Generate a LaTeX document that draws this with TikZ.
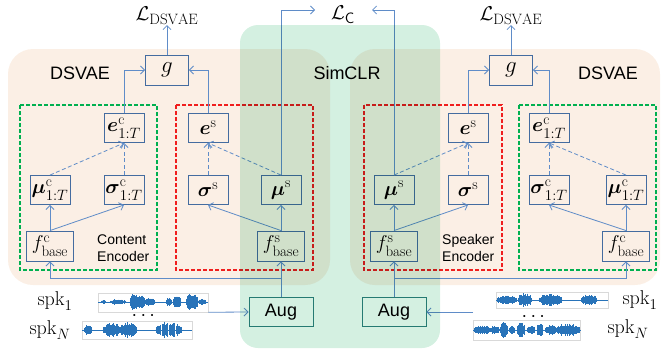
\RequirePackage{fix-cm}
\documentclass[tikz,border=0pt]{standalone}
\usepackage{amsmath,amssymb}
\usepackage{fontspec}
\newfontfamily\sflabel{Liberation Sans}
\usetikzlibrary{arrows.meta}
\DeclareMathSizes{20}{20}{15}{11}
\DeclareMathSizes{23}{23}{16}{12}

\definecolor{peach}{RGB}{251,239,229}
\definecolor{simgreen}{RGB}{212,240,225}
\definecolor{boxc}{RGB}{68,108,160}
\definecolor{arrc}{RGB}{95,140,200}
\definecolor{dgreen}{RGB}{0,176,80}
\definecolor{dred}{RGB}{240,30,30}
\definecolor{wavec}{RGB}{40,115,185}
\definecolor{augc}{RGB}{45,130,130}

% waveform: x, y of the zero line, length, bumps c/w/a
\newcommand{\wave}[4]{%
  \begin{scope}[shift={(#1,#2)}]
    \draw[wavec,line width=0.7pt] (0,0) -- (#3,0);
    \foreach \bc/\bw/\ba in {#4}{
      \foreach \i in {-12,...,12}{
        \pgfmathsetmacro{\h}{\ba*sqrt(max(0,1-(\i/12)*(\i/12)))*(0.5+0.5*rnd)+0.5}
        \draw[wavec,line width=0.9pt] (\bc+\i*\bw/12,-\h) -- (\bc+\i*\bw/12,\h);
      }
    }
  \end{scope}}

\begin{document}
\begin{tikzpicture}[x=1pt,y=-1pt,>={Straight Barb[length=4pt,width=8pt]},
                    shorten >=0pt]
    \tikzset{box/.style={draw=boxc,line width=0.9pt,minimum width=40pt,
               minimum height=29pt,inner sep=0pt,font=\fontsize{20}{22}\selectfont},
             basebox/.style={box,minimum width=47pt,minimum height=30pt},
             gbox/.style={box,minimum width=43pt,minimum height=30pt,
               font=\fontsize{23}{25}\selectfont},
             augbox/.style={draw=augc,line width=0.9pt,minimum width=64pt,
               minimum height=29pt,font=\sflabel\fontsize{18}{20}\selectfont},
             arr/.style={->,draw=arrc,line width=0.8pt},
             darr/.style={arr,dash pattern=on 4pt off 2.5pt},
             grp/.style={dash pattern=on 4pt off 2pt,line width=1.2pt},
             lbl/.style={font=\sflabel\fontsize{18}{20}\selectfont},
             enc/.style={font=\sflabel\fontsize{14}{17}\selectfont,align=left,
               inner sep=0pt,anchor=west},
             mtext/.style={font=\fontsize{20}{22}\selectfont,inner sep=0pt},
             wframe/.style={draw=black!15,line width=0.5pt,inner sep=0pt}}
    \useasboundingbox (0,0) rectangle (661,349);
    \pgfmathsetseed{11}

    \fill[peach,rounded corners=25pt] (8,49) rectangle (330,285);
    \fill[peach,rounded corners=25pt] (350,49) rectangle (660,285);
    \draw[dgreen,grp] (20,105) rectangle (157,270);
    \draw[dred,grp] (176,105) rectangle (313,270);
    \draw[dred,grp] (364,105) rectangle (502,270);
    \draw[dgreen,grp] (519,105) rectangle (656,270);

    \node[lbl] (dsL) at (80,73) {DSVAE};
    \node[lbl] (dsR) at (608,73) {DSVAE};
    \node[lbl] (sim) at (347,73) {SimCLR};
    \node[enc] (ceL) at (97,248) {Content\\Encoder};
    \node[enc] (seR) at (442,248) {Speaker\\Encoder};

    % left branch
    \node[mtext] (LdL) at (167,16) {$\mathcal{L}_{\mathrm{DSVAE}}$};
    \node[gbox] (gL) at (167,70) {$g$};
    \node[box] (ecL) at (124,128) {$\boldsymbol{e}^{\mathrm{c}}_{1:T}$};
    \node[box] (esL) at (208,128) {$\boldsymbol{e}^{\mathrm{s}}$};
    \node[box] (mucL) at (50,190) {$\boldsymbol{\mu}^{\mathrm{c}}_{1:T}$};
    \node[box] (sigcL) at (124,190) {$\boldsymbol{\sigma}^{\mathrm{c}}_{1:T}$};
    \node[box] (sigsL) at (208,190) {$\boldsymbol{\sigma}^{\mathrm{s}}$};
    \node[box] (musL) at (281,190) {$\boldsymbol{\mu}^{\mathrm{s}}$};
    \node[basebox] (fcL) at (50,246) {$f^{\mathrm{c}}_{\mathrm{base}}$};
    \node[basebox] (fsL) at (281,246) {$f^{\mathrm{s}}_{\mathrm{base}}$};
    \node[augbox] (augL) at (281,312) {Aug};

    % right branch
    \node[mtext] (LdR) at (511,16) {$\mathcal{L}_{\mathrm{DSVAE}}$};
    \node[gbox] (gR) at (511,70) {$g$};
    \node[box] (esR) at (468,128) {$\boldsymbol{e}^{\mathrm{s}}$};
    \node[box] (ecR) at (549,128) {$\boldsymbol{e}^{\mathrm{c}}_{1:T}$};
    \node[box] (musR) at (394,190) {$\boldsymbol{\mu}^{\mathrm{s}}$};
    \node[box] (sigsR) at (468,190) {$\boldsymbol{\sigma}^{\mathrm{s}}$};
    \node[box] (sigcR) at (549,190) {$\boldsymbol{\sigma}^{\mathrm{c}}_{1:T}$};
    \node[box] (mucR) at (626,190) {$\boldsymbol{\mu}^{\mathrm{c}}_{1:T}$};
    \node[basebox] (fsR) at (394,246) {$f^{\mathrm{s}}_{\mathrm{base}}$};
    \node[basebox] (fcR) at (626,246) {$f^{\mathrm{c}}_{\mathrm{base}}$};
    \node[augbox] (augR) at (394,312) {Aug};

    \node[mtext] (LC) at (343,15) {$\mathcal{L}_{\mathsf{C}}$};
    \coordinate (cL) at (315,10);
    \coordinate (cR) at (372,10);
    \coordinate (inR) at (473,312);

    \path
    (fcL) edge[arr] (mucL)
    (fcL.north) edge[arr] (sigcL.south)
    (mucL.north) edge[darr] (ecL.south)
    (sigcL) edge[darr] (ecL)
    (fsL) edge[arr] (musL)
    (fsL.north) edge[arr] (sigsL.south)
    (sigsL) edge[darr] (esL)
    (musL.north) edge[darr] (esL.south)
    (gL) edge[arr] (LdL)
    (augL) edge[arr] (fsL)
    (fcR) edge[arr] (mucR)
    (fcR.north) edge[arr] (sigcR.south)
    (mucR.north) edge[darr] (ecR.south)
    (sigcR) edge[darr] (ecR)
    (fsR) edge[arr] (musR)
    (fsR.north) edge[arr] (sigsR.south)
    (sigsR) edge[darr] (esR)
    (musR.north) edge[darr] (esR.south)
    (gR) edge[arr] (LdR)
    (augR) edge[arr] (fsR)
    (inR) edge[arr] (augR.east);
    \draw[arr] (ecL) |- (gL);
    \draw[arr] (esL) |- (gL);
    \draw[arr] (esR) |- (gR);
    \draw[arr] (ecR) |- (gR);
    \draw[arr] (musL.north) |- (cL);
    \draw[arr] (musR.north) |- (cR);
    \draw[arr] (augL.north) -- ++(0,-19) -| (fcL.south);
    \draw[arr] (augR.north) -- ++(0,-19) -| (fcR.south);

    % speakers
    \node[mtext,font=\fontsize{20}{22}\selectfont] (s1L) at (55,301) {$\mathrm{spk}_1$};
    \node[mtext,font=\fontsize{20}{22}\selectfont] (sNL) at (50,330) {$\mathrm{spk}_N$};
    \node[mtext,font=\fontsize{20}{22}\selectfont] (s1R) at (640,300) {$\mathrm{spk}_1$};
    \node[mtext,font=\fontsize{20}{22}\selectfont] (sNR) at (628,329) {$\mathrm{spk}_N$};
    \node[wframe,minimum width=110pt,minimum height=19pt] (w1L) at (153,302.5) {};
    \node[wframe,minimum width=110pt,minimum height=18pt] (wNL) at (137,330) {};
    \node[wframe,minimum width=112pt,minimum height=16pt] (w1R) at (552,300) {};
    \node[wframe,minimum width=107pt,minimum height=20pt] (wNR) at (526.5,330) {};
    \node[mtext] (dotL) at (145,316) {$\cdots$};
    \node[mtext] (dotR) at (535,317) {$\cdots$};
    \wave{98}{302}{110}{5.5/2/1.5,20/8/2.5,36/4/8.5,43/4/6.5,52/5/3.5,71/3/3.5,79/4/5.5,94/6/8.5,104/4/2.5}
    \wave{82}{330}{110}{6/4/4.5,30/9/7,46/9/7.5,87/14/8.5}
    \wave{496}{300}{112}{11/10/4.5,29/7/6.5,54/12/5.5,93/8/5.5}
    \wave{473}{330}{107}{9/8/4.5,22/5/3.5,31/4/7.5,39/3/3.5,48/4/7.5,58/4/3.5,67/3/6.5,78/6/4.5,95/12/6.5}
    \path (w1L.south east) edge[arr] (augL.west);

    \fill[simgreen,rounded corners=18pt,blend mode=multiply] (240,25) rectangle (440,348);
\end{tikzpicture}
\end{document}
